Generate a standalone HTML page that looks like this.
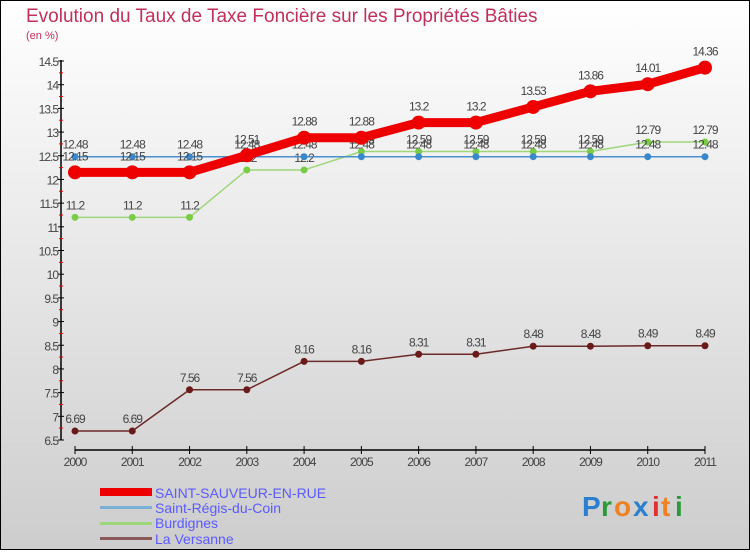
<!DOCTYPE html>
<html><head><meta charset="utf-8"><style>
body{margin:0}
svg text{font-family:"Liberation Sans",sans-serif}
</style></head><body>
<svg id="c" width="750" height="550" xmlns="http://www.w3.org/2000/svg">
<defs><linearGradient id="bg" x1="0" y1="0" x2="0" y2="1"><stop offset="0" stop-color="#ffffff"/><stop offset="1" stop-color="#cdcdcd"/></linearGradient></defs>
<rect x="0.5" y="0.5" width="749" height="549" fill="url(#bg)" stroke="#000"/>
<text x="26" y="22" font-size="19" fill="#c0305a">Evolution du Taux de Taxe Foncière sur les Propriétés Bâties</text>
<text x="26" y="39" font-size="11" fill="#c0305a">(en %)</text>
<g id="axes"></g><g id="series"></g>
<g>
<rect x="100" y="488" width="52" height="8" fill="#e00"/>
<text x="155" y="498" font-size="14" fill="#5a5aff">SAINT-SAUVEUR-EN-RUE</text>
<rect x="100" y="506" width="52" height="3" fill="#7ab0d8"/>
<text x="155" y="513" font-size="14" fill="#5a5aff">Saint-Régis-du-Coin</text>
<rect x="100" y="522" width="52" height="3" fill="#9ed67a"/>
<text x="155" y="528" font-size="14" fill="#5a5aff">Burdignes</text>
<rect x="100" y="537" width="52" height="3" fill="#8a5a5a"/>
<text x="155" y="544" font-size="14" fill="#5a5aff">La Versanne</text>
</g>
<g font-size="28" font-weight="bold">
<text x="582" y="516" fill="#2a7fd0">P</text><text x="601" y="516" fill="#2a9a3a">r</text><text x="614" y="516" fill="#f08020">o</text><text x="633" y="516" fill="#2a7fd0">x</text><text x="652" y="516" fill="#e03030">i</text><text x="661" y="516" fill="#f08020">t</text><text x="675" y="516" fill="#2a9a3a">i</text>
</g>
</svg>
<script>
const years=[2000,2001,2002,2003,2004,2005,2006,2007,2008,2009,2010,2011];
const red=[12.15,12.15,12.15,12.51,12.88,12.88,13.2,13.2,13.53,13.86,14.01,14.36];
const blue=[12.48,12.48,12.48,12.48,12.48,12.48,12.48,12.48,12.48,12.48,12.48,12.48];
const green=[11.2,11.2,11.2,12.2,12.2,12.59,12.59,12.59,12.59,12.59,12.79,12.79];
const brown=[6.69,6.69,7.56,7.56,8.16,8.16,8.31,8.31,8.48,8.48,8.49,8.49];
const yTicks=[6.5,7,7.5,8,8.5,9,9.5,10,10.5,11,11.5,12,12.5,13,13.5,14,14.5];
const NS="http://www.w3.org/2000/svg";
const X=i=>75+i*(630/11);
const Y=v=>440-(v-6.5)*(379/8);
function mk(t,a,p){const e=document.createElementNS(NS,t);for(const k in a)e.setAttribute(k,a[k]);p.appendChild(e);return e;}
const ax=document.getElementById('axes');
let l=mk('line',{x1:61,y1:60,x2:61,y2:440,stroke:'#000','stroke-width':1.5},ax);


yTicks.forEach((v,i)=>{
 mk('line',{x1:58,x2:64,y1:Y(v),y2:Y(v),stroke:'#000'},ax);
 if(i<yTicks.length-1)mk('line',{x1:59,x2:63,y1:Y(v+0.25),y2:Y(v+0.25),stroke:'#e00'},ax);
 const t=mk('text',{x:58,y:Y(v)+5,'font-size':12,fill:'#444','text-anchor':'end','letter-spacing':'-1'},ax);
 t.textContent=String(v);
 
 
});
l=mk('line',{x1:75,y1:450,x2:705,y2:450,stroke:'#000','stroke-width':1.5},ax);


years.forEach((y,i)=>{
 mk('line',{x1:X(i),x2:X(i),y1:446,y2:454,stroke:'#000'},ax);
 const t=mk('text',{x:X(i),y:466,'font-size':12,fill:'#444','text-anchor':'middle','letter-spacing':'-1'},ax);
 t.textContent=y;
 
 
});
const sg=document.getElementById('series');
function series(vals,color,w,r,dot,name){
 const g=mk('g',{},sg);
 
 
 mk('polyline',{points:vals.map((v,i)=>X(i)+','+Y(v)).join(' '),fill:'none',stroke:color,'stroke-width':w,'stroke-linejoin':'round'},g);
 vals.forEach((v,i)=>{
  const c=mk('circle',{cx:X(i),cy:Y(v),r:r,fill:dot},g);
  
  
  const t=mk('text',{x:X(i),y:Y(v)-8-(r>4?4:0),'font-size':12,fill:'#444','text-anchor':'middle','letter-spacing':'-1'},g);
  t.textContent=String(v);
  
  
 });
}
series(brown,'#6b2a2a',1.5,3.5,'#6b1a1a','la-versanne-series');
series(green,'#9ed67a',1.5,3.5,'#7acc44','burdignes-series');
series(blue,'#4a90d0',1.5,3.5,'#3a88cc','saint-regis-series');
series(red,'#ee0000',9,7,'#ee0000','saint-sauveur-series');
</script>
</body></html>
